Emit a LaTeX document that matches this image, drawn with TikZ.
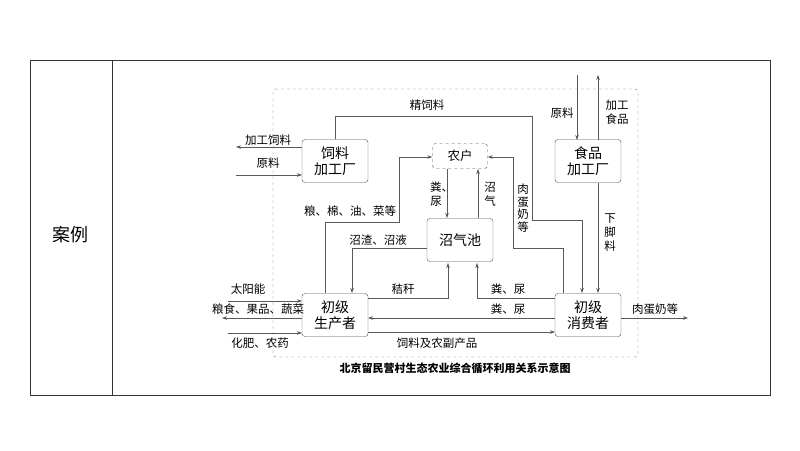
\documentclass[tikz,border=0pt]{standalone}
\usepackage{fontspec}
\setmainfont{Noto Sans CJK SC}
\usetikzlibrary{arrows.meta}
\begin{document}
\begin{tikzpicture}[x=1pt,y=-1pt,
  box/.style={draw=black!70,solid,rounded corners=3pt,minimum width=66pt,minimum height=43pt,align=center,font=\fontsize{14}{16}\selectfont,inner sep=1pt},
  ln/.style={draw=black!65,line width=0.6pt,solid},
  ar/.style={ln,-{Stealth[length=5pt,width=3.5pt]}},
  lb/.style={font=\fontsize{11.5}{13}\selectfont,inner sep=1pt},
  vl/.style={lb,align=center,font=\fontsize{11.5}{14}\selectfont}]
\useasboundingbox (0,0) rectangle (800,450);
\draw[black!80,line width=0.8pt] (30,60) rectangle (770,395);
\draw[black!80,line width=0.8pt] (112,60) -- (112,395);
\node[font=\fontsize{18}{20}\selectfont] (case) at (70,235) {案例};
\draw[black!55,dashed,rounded corners=3pt] (273,89) rectangle (638,357);
\node[box] (feed) at (335,161) {饲料\\加工厂};
\node[box,dashed,minimum width=55pt,minimum height=25pt,font=\fontsize{12.5}{14}\selectfont] (farm) at (460,156) {农户};
\node[box] (food) at (588,161) {食品\\加工厂};
\node[box] (bio) at (460,240) {沼气池};
\node[box] (prod) at (335,315) {初级\\生产者};
\node[box] (cons) at (588,315) {初级\\消费者};
\node[font=\bfseries\fontsize{11}{12}\selectfont] (cap) at (455,368) {北京留民营村生态农业综合循环利用关系示意图};
% coordinates
\coordinate (c1) at (236,147); \coordinate (c2) at (236,175);
\coordinate (ft) at (577,75); \coordinate (fo) at (598,75);
\coordinate (s1) at (228,301); \coordinate (s2) at (222,318);
\coordinate (s3) at (228,333); \coordinate (s4) at (688,318);
% edges
\draw[ar] (feed.north) -- (335,116) -- (532,116) -- (532,220) -- (582,220) -- (582,293);
\draw[ar] (302,147) -- (c1);
\draw[ar] (c2) -- (302,175);
\draw[ar] (ft) -- (577,140);
\draw[ar] (598,140) -- (fo);
\draw[ar] (598,183) -- (598,293);
\draw[ar] (325,293) -- (325,222) -- (399,222) -- (399,157) -- (farm.west|-399,157);
\draw[ar] (563,293) -- (563,248) -- (513,248) -- (513,157) -- (farm.east|-513,157);
\draw[ar] (447,169) -- (447,218);
\draw[ar] (478,218) -- (478,169);
\draw[ar] (427,248) -- (352,248) -- (352,293);
\draw[ar] (368,298) -- (448,298) -- (448,263);
\draw[ar] (555,298) -- (477,298) -- (477,263);
\draw[ar] (555,318) -- (368,318);
\draw[ar] (368,332) -- (555,332);
\draw[ar] (s1) -- (302,301);
\draw[ar] (302,318) -- (s2);
\draw[ar] (s3) -- (302,333);
\draw[ar] (621,318) -- (s4);
% labels
\node[lb] (l1) at (427,105) {精饲料};
\node[lb] (l2) at (268,140) {加工饲料};
\node[lb] (l3) at (268,163) {原料};
\node[lb] (l4) at (562,113) {原料};
\node[vl] (l5) at (617,112) {加工\\食品};
\node[lb] (l6) at (350,211) {粮、棉、油、菜等};
\node[vl,text width=12pt] (l7) at (436,194) {粪、\\尿};
\node[vl] (l8) at (490,194) {沼\\气};
\node[vl,font=\fontsize{11.5}{12.5}\selectfont] (l9) at (523,208) {肉\\蛋\\奶\\等};
\node[vl] (l10) at (610,233) {下\\脚\\料};
\node[lb] (l11) at (378,240) {沼渣、沼液};
\node[lb] (l12) at (403,289) {秸秆};
\node[lb] (l13) at (508,289) {粪、尿};
\node[lb] (l14) at (508,309) {粪、尿};
\node[lb] (l15) at (437,343) {饲料及农副产品};
\node[lb] (l16) at (248,289) {太阳能};
\node[lb] (l17) at (258,309) {粮食、果品、蔬菜};
\node[lb] (l18) at (260,343) {化肥、农药};
\node[lb] (l19) at (655,309) {肉蛋奶等};
\end{tikzpicture}
\end{document}
